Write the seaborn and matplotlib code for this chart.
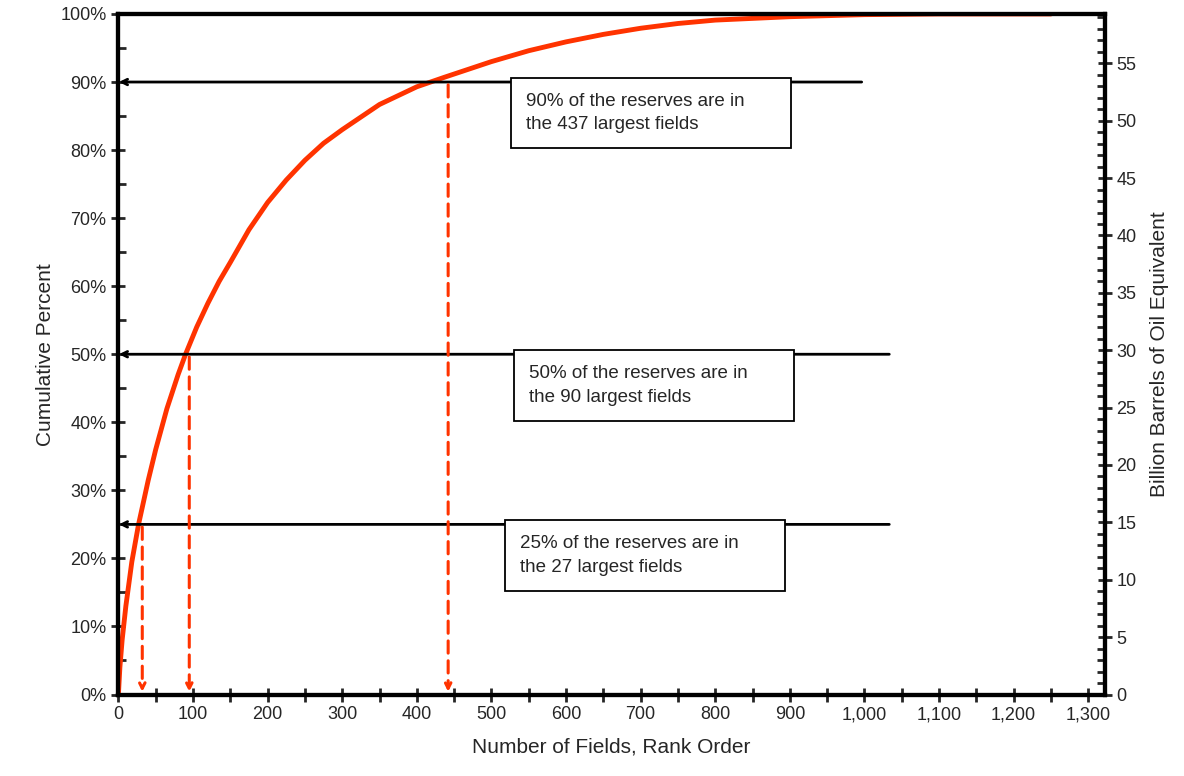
import matplotlib
matplotlib.use('Agg')
import matplotlib.pyplot as plt
import seaborn as sns
import pandas as pd
from matplotlib.ticker import FuncFormatter, MultipleLocator

# cumulative share of reserves vs field rank
rank = [0, 2, 5, 10, 18, 27, 40, 50, 65, 80, 90, 105, 120, 135, 150, 175, 200, 225,
        250, 275, 300, 350, 400, 437, 500, 550, 600, 650, 700, 750, 800, 900, 1000,
        1100, 1250]
cum_pct = [0, 4, 8, 13, 19.5, 25, 31.5, 36, 42, 47, 50, 54, 57.5, 60.7, 63.5, 68.3,
           72.3, 75.6, 78.5, 81, 83, 86.7, 89.3, 90.7, 93, 94.6, 95.9, 97, 97.9, 98.6,
           99.1, 99.6, 99.9, 100, 100]

# annotation levels
ann_rank = [27, 90, 437]
ann_pct = [25, 50, 90]
ann_xend = [1037, 1037, 1000]
ann_text = ['25% of the reserves are in      \nthe 27 largest fields',
            '50% of the reserves are in      \nthe 90 largest fields',
            '90% of the reserves are in      \nthe 437 largest fields']
ann_box_x = [538, 550, 546]

df = pd.DataFrame({'rank': rank, 'pct': cum_pct})

sns.set_style('white')
plt.rcParams['font.family'] = ['Liberation Sans', 'DejaVu Sans']
fig, ax = plt.subplots(figsize=(11.84, 7.76), dpi=100)
fig.subplots_adjust(left=0.1, right=0.933, top=0.982, bottom=0.105)

sns.lineplot(data=df, x='rank', y='pct', ax=ax, color='#ff3300', linewidth=3.5)

for r, p, xe, txt, bx in zip(ann_rank, ann_pct, ann_xend, ann_text, ann_box_x):
    ax.annotate('', xy=(-3, p), xytext=(xe, p), annotation_clip=False,
                arrowprops=dict(arrowstyle='->', color='black', lw=2))
    ax.annotate('', xy=(r + 5, 0), xytext=(r + 5, p), annotation_clip=False,
                arrowprops=dict(arrowstyle='->', color='#ff3300', lw=2.2,
                                linestyle=(0, (4, 2.5))))
    ax.text(bx, p - 1.6, txt, fontsize=13.5, va='top', ha='left', linespacing=1.5,
            bbox=dict(boxstyle='square,pad=0.8', fc='white', ec='black', lw=1.3))

ax.set_xlim(0, 1322)
ax.set_ylim(0, 100)
ax.xaxis.set_major_locator(MultipleLocator(100))
ax.xaxis.set_minor_locator(MultipleLocator(50))
ax.yaxis.set_major_locator(MultipleLocator(10))
ax.yaxis.set_minor_locator(MultipleLocator(5))
ax.xaxis.set_major_formatter(FuncFormatter(lambda v, _: f'{int(v):,}'))
ax.yaxis.set_major_formatter(FuncFormatter(lambda v, _: f'{int(v)}%'))
ax.tick_params(which='both', bottom=True, left=True)
ax.tick_params(which='major', direction='inout', length=10, width=2, labelsize=13)
ax.tick_params(axis='y', which='minor', direction='in', length=6, width=2)
ax.tick_params(axis='x', which='minor', direction='inout', length=10, width=2)
ax.set_xlabel('Number of Fields, Rank Order', fontsize=15, labelpad=10)
ax.set_ylabel('Cumulative Percent', fontsize=15)
for s in ax.spines.values():
    s.set_linewidth(3)
    s.set_color('black')

ax2 = ax.twinx()
ax2.set_ylim(0, 59.3)
ax2.yaxis.set_major_locator(MultipleLocator(5))
ax2.yaxis.set_minor_locator(MultipleLocator(1))
ax2.tick_params(which='both', right=True)
ax2.tick_params(which='major', direction='inout', length=10, width=2, labelsize=13)
ax2.tick_params(which='minor', direction='in', length=6, width=2)
ax2.set_ylabel('Billion Barrels of Oil Equivalent', fontsize=15, labelpad=10)
for s in ax2.spines.values():
    s.set_linewidth(3)
    s.set_color('black')

fig.savefig('out.png', dpi=100, facecolor='white')
